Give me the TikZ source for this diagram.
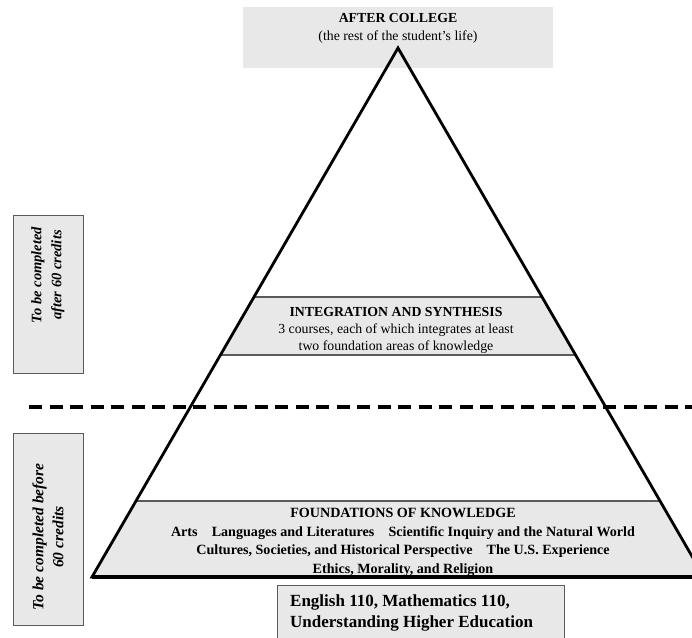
\documentclass[tikz,border=0pt]{standalone}
\usepackage{fontspec}
\setmainfont{Liberation Serif}
\usetikzlibrary{calc}
\definecolor{paper}{HTML}{E8E8E8}
\definecolor{rim}{HTML}{5A5A5A}

\begin{document}
\begin{tikzpicture}[x=1pt,y=-1pt,
  gray box/.style={fill=paper,draw=rim,line width=1pt},
  side box/.style={gray box,minimum width=70pt,inner sep=0pt},
  side text/.style={rotate=90,align=center,font=\bfseries\itshape},
  band text/.style={align=center,inner sep=0pt},
  divider/.style={draw=rim,line width=1.5pt}]
  \clip (0,0) rectangle (692,637);

  % corners of the pyramid
  \coordinate (apex) at (398,48);
  \coordinate (bl) at (92,577);
  \coordinate (br) at (704,577);

  % band corners
  \coordinate (i1) at ($(apex)!0.4707!(bl)$);
  \coordinate (i2) at ($(apex)!0.4707!(br)$);
  \coordinate (i3) at ($(apex)!0.5803!(br)$);
  \coordinate (i4) at ($(apex)!0.5803!(bl)$);
  \coordinate (f1) at ($(apex)!0.8563!(bl)$);
  \coordinate (f2) at ($(apex)!0.8563!(br)$);

  \node[fill=paper,minimum width=310pt,minimum height=61pt] (after box) at (398,37.5) {};
  \node[band text,font=\fontsize{13.8}{18}\selectfont] (after) at (398,28)
    {\textbf{AFTER COLLEGE}\\(the rest of the student’s life)};

  \fill[paper] (i1) -- (i2) -- (i3) -- (i4) -- cycle;
  \fill[paper] (f1) -- (f2) -- (br) -- (bl) -- cycle;
  \draw[divider] (i1) -- (i2);
  \draw[divider] (i4) -- (i3);
  \draw[divider] (f1) -- (f2);

  \draw[line width=2.8pt] (apex) -- (br) -- (bl) -- cycle;
  \draw[line width=4pt] (bl) -- (br);

  \node[band text,font=\fontsize{13.8}{17}\selectfont] (integration) at (396,330)
    {\textbf{INTEGRATION AND SYNTHESIS}\\3 courses, each of which integrates at least\\two foundation areas of knowledge};
  \node[band text,font=\fontsize{14.1}{18.5}\selectfont\bfseries] (foundations) at (403,542.5)
    {FOUNDATIONS OF KNOWLEDGE\\
     Arts\quad Languages and Literatures\quad Scientific Inquiry and the Natural World\\
     Cultures, Societies, and Historical Perspective\quad The U.S. Experience\\
     Ethics, Morality, and Religion};

  % credit line
  \coordinate (cut west) at (29,407);
  \coordinate (cut east) at (692,407);
  \draw[line width=3.5pt,dash pattern=on 13pt off 7.5pt] (cut west) -- (cut east);

  \node[side box,minimum height=158pt] (after credits) at (48,294) {};
  \node[side text,font=\fontsize{14.5}{20}\selectfont\bfseries\itshape]
    (after credits text) at (48,275) {To be completed\\after 60 credits};
  \node[side box,minimum height=192pt] (before credits) at (48,529) {};
  \node[side text,font=\fontsize{15.5}{20}\selectfont\bfseries\itshape]
    (before credits text) at (48,537) {To be completed before\\60 credits};

  \node[gray box,minimum width=287pt,minimum height=70pt,anchor=north west] (core) at (277,585) {};
  \node[anchor=north west,inner sep=0pt,align=left,font=\fontsize{17}{21}\selectfont\bfseries]
    (core text) at (290,594) {English 110, Mathematics 110,\\Understanding Higher Education};
\end{tikzpicture}
\end{document}
